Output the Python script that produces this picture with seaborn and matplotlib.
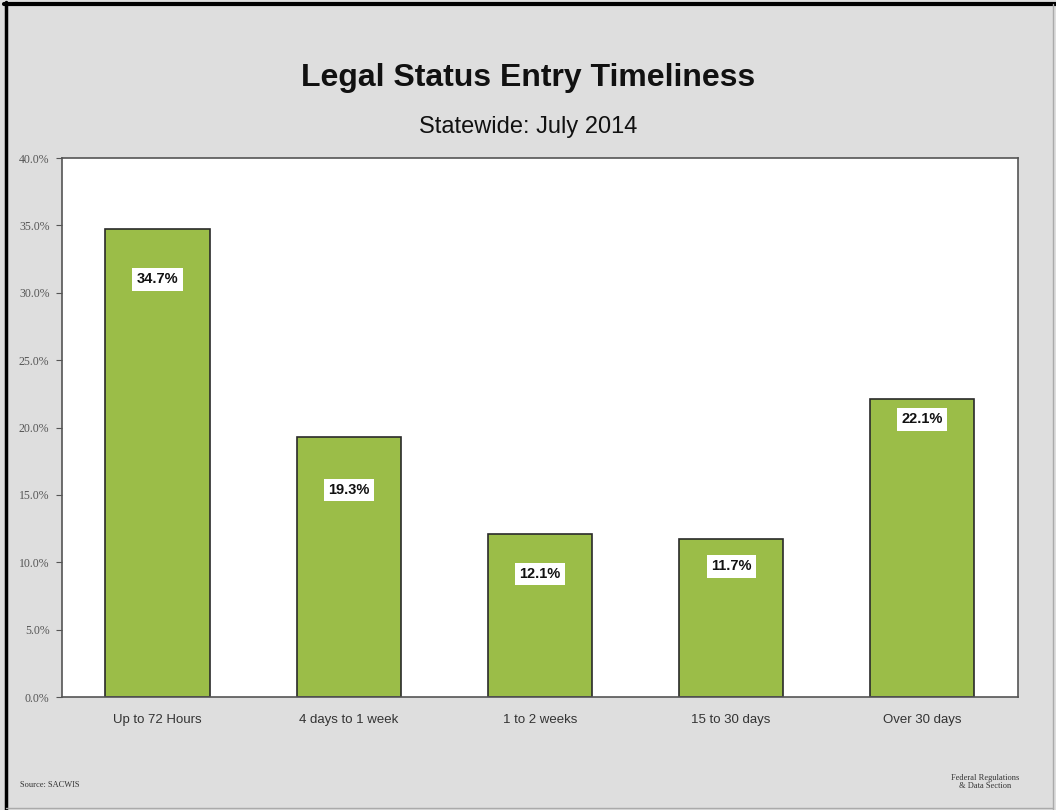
import matplotlib
matplotlib.use("Agg")
import matplotlib.pyplot as plt
import seaborn as sns
import pandas as pd
from matplotlib.lines import Line2D
from matplotlib.ticker import FuncFormatter, MultipleLocator

categories = ["Up to 72 Hours", "4 days to 1 week", "1 to 2 weeks", "15 to 30 days", "Over 30 days"]
values = [34.7, 19.3, 12.1, 11.7, 22.1]
value_labels = ["34.7%", "19.3%", "12.1%", "11.7%", "22.1%"]
title = "Legal Status Entry Timeliness"
subtitle = "Statewide: July 2014"
source_text = "Source: SACWIS"
credit_text = "Federal Regulations\n& Data Section"

# label offsets below bar top, in pixels (style)
label_offsets = [50, 53, 40, 27, 20]

sns.set_theme(style="white")
plt.rcParams["font.family"] = ["Liberation Sans", "DejaVu Sans"]

bg = "#dedede"
bar_color = "#9bbd48"

fig = plt.figure(figsize=(10.56, 8.10), dpi=100, facecolor=bg)
ax = fig.add_axes([0.0587, 0.1395, 0.9053, 0.6654])
ax.set_facecolor("white")

df = pd.DataFrame({"cat": categories, "val": values})
sns.barplot(data=df, x="cat", y="val", color=bar_color, edgecolor="#2a2a2a",
            linewidth=1.2, width=0.545, ax=ax, saturation=1)

ax.set_ylim(0, 40)
ax.set_xlim(-0.5, len(categories) - 0.5)
ax.yaxis.set_major_locator(MultipleLocator(5))
ax.yaxis.set_major_formatter(FuncFormatter(lambda v, p: f"{v:.1f}%"))
ax.set_xlabel("")
ax.set_ylabel("")
for s in ax.spines.values():
    s.set_color("#555555")
    s.set_linewidth(1.2)
ax.tick_params(axis="y", which="major", left=True, length=4, width=0.8, color="#555555",
               pad=5, labelsize=8.5, labelcolor="#555555")
for lab in ax.get_yticklabels():
    lab.set_family(["Liberation Serif", "DejaVu Serif"])
ax.tick_params(axis="x", bottom=False, pad=6, labelsize=9.5, labelcolor="#333333")

for i, (v, lab) in enumerate(zip(values, value_labels)):
    ax.annotate(lab, xy=(i, v), xytext=(0, -label_offsets[i]), textcoords="offset pixels",
                ha="center", va="center", fontsize=10.5, fontweight="bold", color="#111111",
                bbox=dict(boxstyle="square,pad=0.3", facecolor="white", edgecolor="none"))

fig.text(0.5, 1 - 78 / 810, title, ha="center", va="center", fontsize=23, fontweight="bold",
         color="#111111")
fig.text(0.5, 1 - 127 / 810, subtitle, ha="center", va="center", fontsize=17, color="#111111")

fig.text(20 / 1056, 1 - 785 / 810, source_text, ha="left", va="center", fontsize=6,
         color="#333333", family=["Liberation Serif", "DejaVu Serif"])
fig.text(985 / 1056, 1 - 782 / 810, credit_text, ha="center", va="center", fontsize=6,
         color="#333333", family=["Liberation Serif", "DejaVu Serif"], linespacing=1.0)

# page border lines
fig.add_artist(Line2D([0.004, 1.0], [0.995, 0.995], transform=fig.transFigure, color="black", lw=3))
fig.add_artist(Line2D([0.006, 0.006], [0.0, 0.997], transform=fig.transFigure, color="black", lw=2.5))
fig.add_artist(Line2D([0.997, 0.997], [0.0, 0.995], transform=fig.transFigure, color="#aaaaaa", lw=1))
fig.add_artist(Line2D([0.006, 0.997], [0.002, 0.002], transform=fig.transFigure, color="#aaaaaa", lw=1))

fig.savefig("out.png", dpi=100, facecolor=bg)
